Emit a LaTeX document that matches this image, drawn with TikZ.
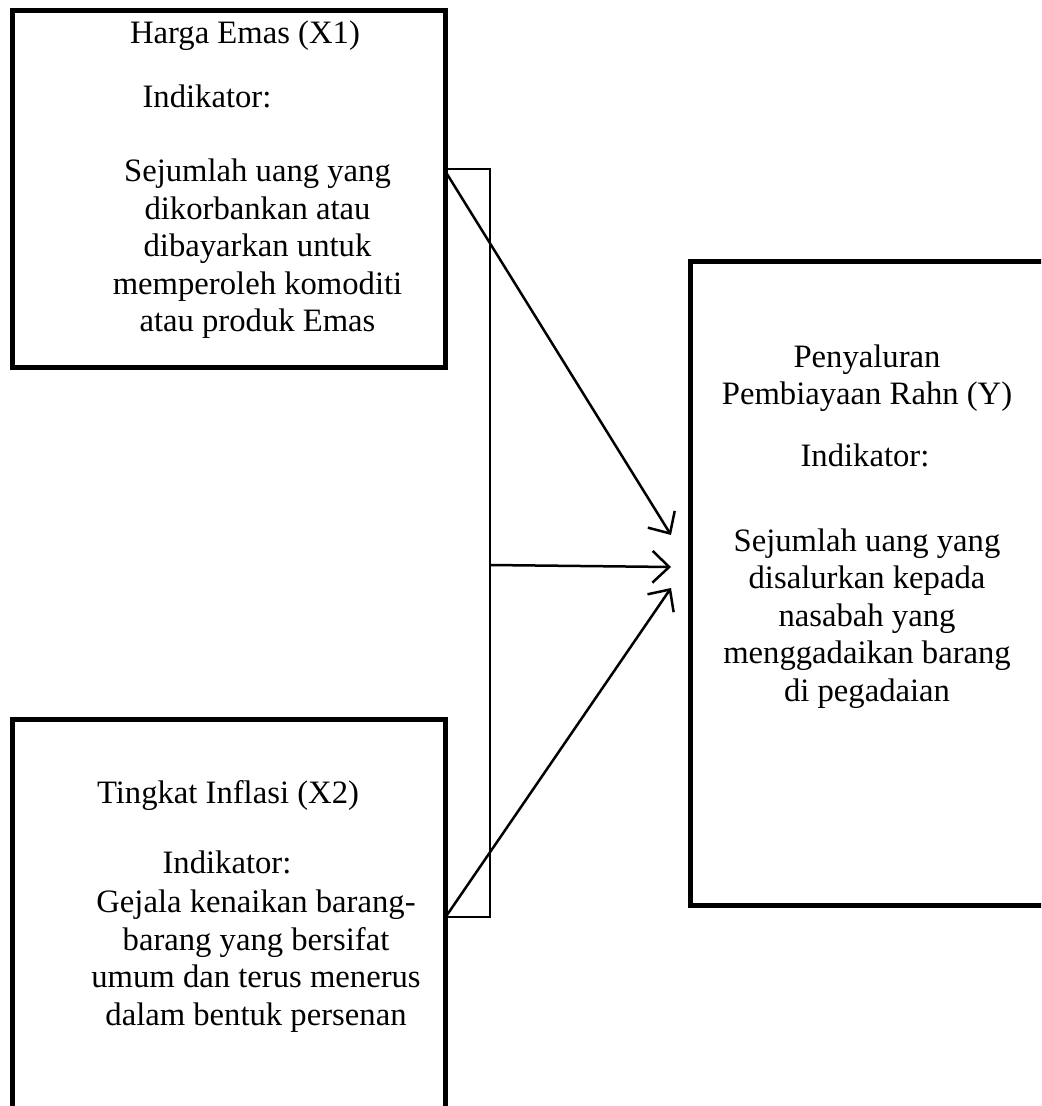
\documentclass[tikz,border=0pt]{standalone}
\usepackage{fontspec}
\setmainfont{Liberation Serif}
\usetikzlibrary{arrows.meta}
\tikzset{
  box/.style={rectangle, draw=black, line width=1.5pt, inner sep=0pt},
  txt/.style={align=center, inner sep=0pt, anchor=base, font=\fontsize{9.8}{11.25}\selectfont},
  link/.style={line width=0.75pt, color=black, -{Straight Barb[length=5pt,width=9.5pt,line width=0.75pt]}},
  bracket/.style={line width=0.6pt, color=black}
}
\begin{document}
\begin{tikzpicture}[x=0.3pt, y=-0.3pt]
\useasboundingbox (0,0) rectangle (1041,1106);
\clip (0,0) rectangle (1041,1106);
% boxes
\node (harga) [box, minimum width=129.9pt, minimum height=107.1pt] at (228.5, 189.5) {};
\node (inflasi) [box, minimum width=129.9pt, minimum height=123.3pt] at (228.5, 924.5) {};
\node (rahn) [box, minimum width=111pt, minimum height=192.9pt] at (875, 583.5) {};
% texts (base = last line)
\node (hargaT) [txt] at (245, 44) {Harga Emas (X1)};
\node (hargaI) [txt] at (207, 108) {Indikator:};
\node (hargaD) [txt] at (257.5, 332) {Sejumlah uang yang\\dikorbankan atau\\dibayarkan untuk\\memperoleh komoditi\\atau produk Emas};
\node (inflasiT) [txt] at (228, 803) {Tingkat Inflasi (X2)};
\node (inflasiI) [txt] at (227, 873) {Indikator:};
\node (inflasiD) [txt] at (256, 1025) {Gejala kenaikan barang-\\barang yang bersifat\\umum dan terus menerus\\dalam bentuk persenan};
\node (rahnT) [txt] at (867, 405) {Penyaluran\\Pembiayaan Rahn (Y)};
\node (rahnI) [txt] at (865, 467) {Indikator:};
\node (rahnD) [txt] at (867, 701) {Sejumlah uang yang\\disalurkan kepada\\nasabah yang\\menggadaikan barang\\di pegadaian};
% connectors
\coordinate (bt0) at (446, 169);
\coordinate (bt) at (490, 169);
\coordinate (bb) at (490, 917);
\coordinate (bb0) at (446, 917);
\coordinate (bm) at (490, 565);
\coordinate (h1) at (447, 174);
\coordinate (i1) at (447, 915);
\coordinate (y1) at (671, 535);
\coordinate (y2) at (671, 567);
\coordinate (y3) at (671, 588);
\draw [bracket] (bt0) -- (bt) -- (bb) -- (bb0);
\draw [link] (h1) to (y1);
\draw [link] (bm) to (y2);
\draw [link] (i1) to (y3);
\end{tikzpicture}
\end{document}
